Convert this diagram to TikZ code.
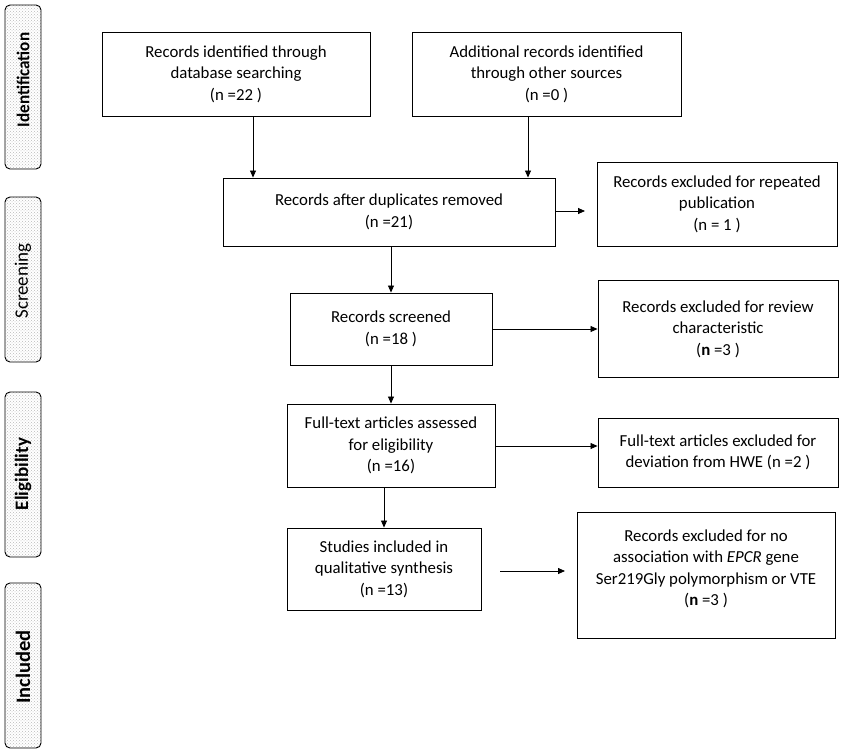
\documentclass[tikz,border=0pt]{standalone}
\usepackage{graphicx}
\usepackage{fontspec}
\setmainfont{Carlito}
\usetikzlibrary{arrows.meta,patterns}
\begin{document}
\begin{tikzpicture}[x=1pt,y=-1pt,
  box/.style={draw=black,line width=0.9pt,align=center,inner sep=0pt,
    font=\fontsize{16.8}{21.5}\selectfont},
  plain/.style={align=center,inner sep=0pt,font=\fontsize{16.8}{21.5}\selectfont},
  arr/.style={-{Triangle[length=7pt,width=6pt]},line width=0.8pt},
  bar/.style={draw=black,line width=0.9pt,rounded corners=5pt,
    pattern=crosshatch dots,pattern color=gray!55},
  barlab/.style={rotate=90,inner sep=1pt}]
\useasboundingbox (0,0) rectangle (851,754);
% phase bars
\draw[bar] (5,5) rectangle (41,169);
\draw[bar] (5,197) rectangle (41,362);
\draw[bar] (5,392) rectangle (41,557);
\draw[bar] (5,583) rectangle (41,748);
\node[barlab,font=\fontsize{18}{20}\selectfont\bfseries] (lid) at (23,80) {\scalebox{0.95}[1]{Identification}};
\node[barlab,font=\fontsize{19}{20}\selectfont] (lsc) at (23,281) {Screening};
\node[barlab,font=\fontsize{19}{20}\selectfont\bfseries] (lel) at (23,474) {Eligibility};
\node[barlab,font=\fontsize{20.5}{22}\selectfont\bfseries] (lin) at (23,667) {Included};
% boxes
\node[box,minimum width=268pt,minimum height=84pt] (b1) at (236,74)
  {Records identified through\\database searching\\(n =22 )};
\node[box,minimum width=269pt,minimum height=84pt] (b2) at (546.5,74)
  {Additional records identified\\through other sources\\(n =0 )};
\node[box,minimum width=332pt,minimum height=68pt] (b3) at (389,212)
  {Records after duplicates removed\\(n =21)};
\node[box,minimum width=240pt,minimum height=84pt] (r1) at (717,204)
  {Records excluded for repeated\\publication\\(n = 1 )};
\node[box,minimum width=202pt,minimum height=72pt] (b4) at (391,329)
  {Records screened\\(n =18 )};
\node[box,minimum width=240pt,minimum height=97pt] (r2) at (718,329)
  {Records excluded for review\\characteristic\\(\textbf{n} =3 )};
\node[box,minimum width=208pt,minimum height=83pt] (b5) at (391,445.5)
  {Full-text articles assessed\\for eligibility\\(n =16)};
\node[box,minimum width=240pt,minimum height=69pt] (r3) at (718,452.5)
  {Full-text articles excluded for\\deviation from HWE (n =2 )};
\node[box,minimum width=194pt,minimum height=82pt] (b6) at (384,569)
  {Studies included in\\qualitative synthesis\\(n =13)};
\node[draw=black,line width=0.9pt,minimum width=258pt,minimum height=126pt,inner sep=0pt] (r4) at (706,575) {};
\node[plain] (r4t) at (706,569)
  {Records excluded for no\\association with \textit{EPCR} gene\\Ser219Gly polymorphism or VTE\\(\textbf{n} =3 )};
% connectors
\draw[arr] (b1.south -| 253,0) -- (b3.north -| 253,0);
\draw[arr] (b2.south -| 528,0) -- (b3.north -| 528,0);
\coordinate (t1) at (585,211);
\draw[arr] (b3.east |- t1) -- (t1);
\draw[arr] (b3.south -| b4.north) -- (b4.north);
\draw[arr] (b4.east) -- (r2.west |- b4.east);
\draw[arr] (b4.south) -- (b5.north);
\coordinate (s5) at (495,446);
\draw[arr] (s5) -- (r3.west |- s5);
\draw[arr] (b5.south -| b6.north) -- (b6.north);
\coordinate (s6) at (500,571);
\coordinate (t6) at (565,571);
\draw[arr] (s6) -- (t6);
\end{tikzpicture}
\end{document}
